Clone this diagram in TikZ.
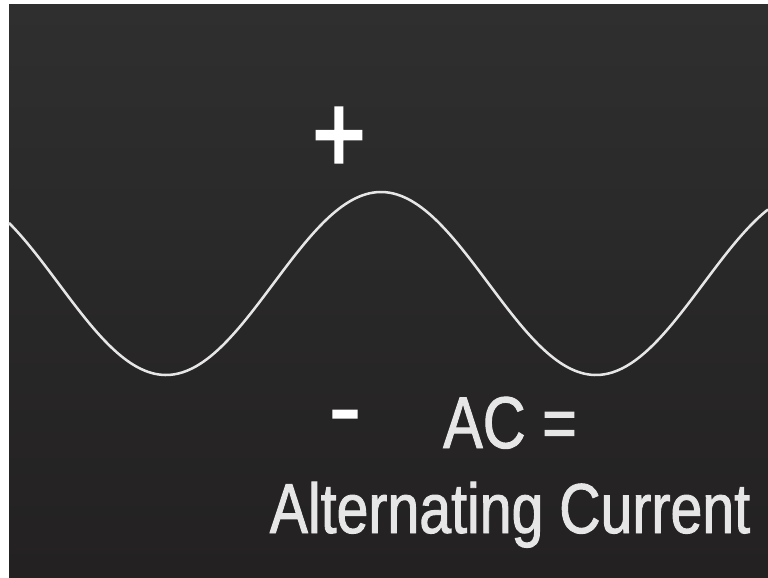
\documentclass[tikz,border=0pt]{standalone}
\usepackage{fontspec}
\usepackage{xcolor}
\usepackage{tikz}
\usetikzlibrary{positioning}
\newfontfamily\chalkfont[FakeStretch=0.81, FakeBold=1.3]{Liberation Sans}
\newfontfamily\signfont[FakeStretch=0.81, FakeBold=2.2]{Liberation Sans}
\newfontfamily\dashfont[FakeBold=1.5]{Liberation Sans}
\definecolor{boardtop}{HTML}{2F2F2F}
\definecolor{boardbottom}{HTML}{232121}
\definecolor{chalkwhite}{HTML}{E6E6E6}

\begin{document}
\begin{tikzpicture}[
  x=0.75pt, y=-0.75pt,
  wave/.style={draw=chalkwhite, line width=1.9pt},
  chalk/.style={text=chalkwhite, font=\chalkfont, inner sep=0pt},
  sign/.style={chalk, text=white}
]
\useasboundingbox (0,0) rectangle (768,578);
\fill[white] (0,0) rectangle (768,578);
\shade[top color=boardtop, bottom color=boardbottom] (9,4) rectangle (768,577);
\draw[wave] plot[domain=9:768, samples=220, smooth] (\x, {283.5 - 91.5*cos((\x-381)/430*360)});
\node[sign, font=\signfont\fontsize{84}{90}\selectfont] (plus) at (339,140) {+};
\node[sign, anchor=base, font=\dashfont\fontsize{73}{80}\selectfont] (minus) at (345,440) {-};
\node[chalk, anchor=base, font=\chalkfont\fontsize{55}{60}\selectfont] (acEq) at (510,448) {AC =};
\node[chalk, anchor=base, font=\chalkfont\fontsize{53}{60}\selectfont] (acName) at (510,533) {Alternating Current};
\end{tikzpicture}
\end{document}
